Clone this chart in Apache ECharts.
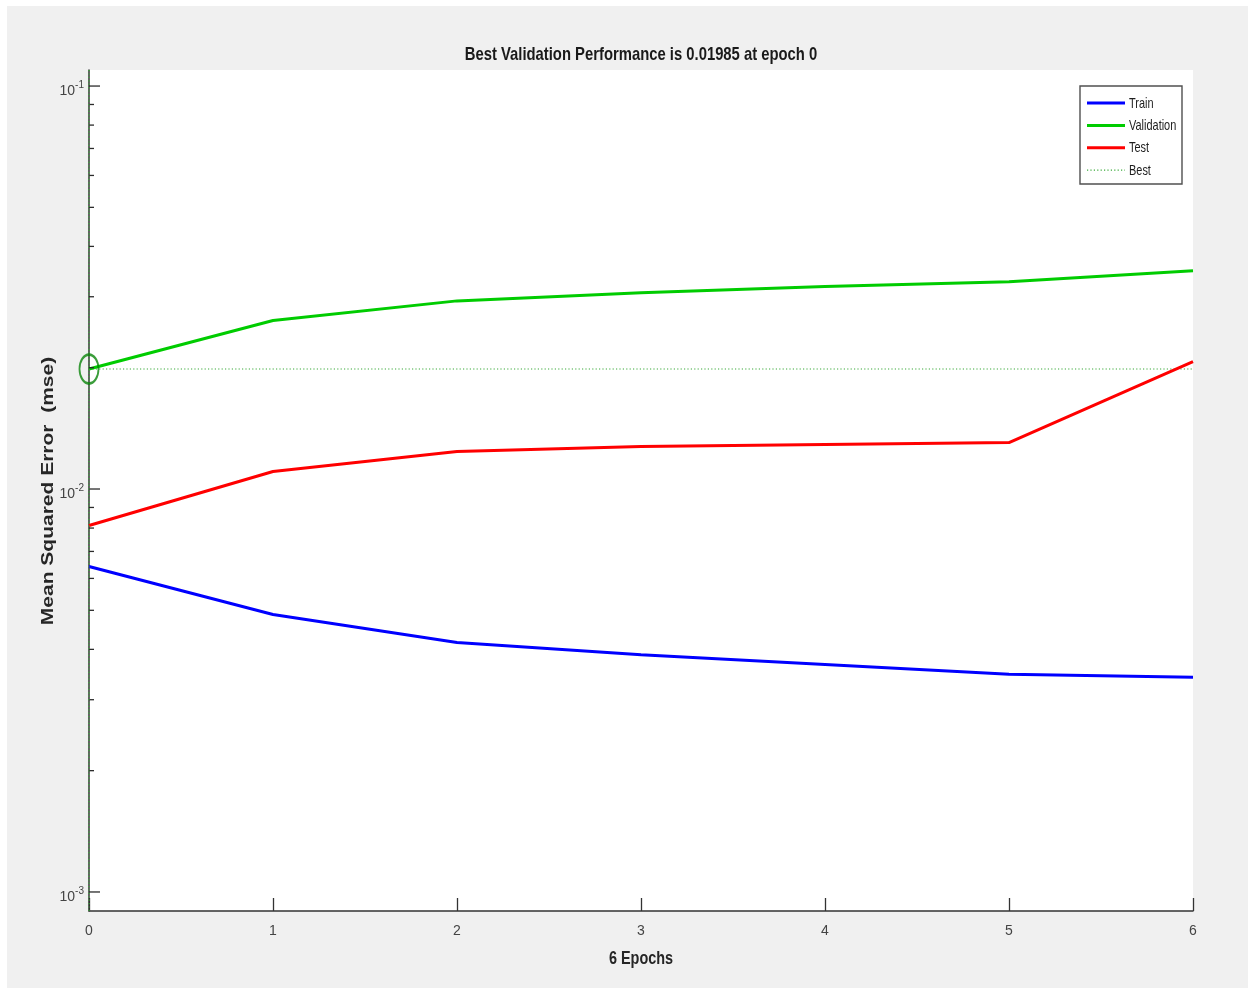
<!DOCTYPE html>
<html>
<head>
<meta charset="utf-8">
<title>Best Validation Performance</title>
<script src="https://cdn.jsdelivr.net/npm/echarts@6/dist/echarts.min.js"></script>
<style>
  html, body { margin: 0; padding: 0; background: #ffffff; }
  #frame { position: absolute; left: 7px; top: 6px; width: 1241px; height: 982px; background: #f0f0f0; }
  #chart { position: absolute; left: 0; top: 0; width: 1250px; height: 989px; }
</style>
</head>
<body>
<div id="frame"></div>
<div id="chart"></div>
<script>
// Training record: mean squared error per epoch
const epochs = [0, 1, 2, 3, 4, 5, 6];
const trainPerf = [0.00642, 0.00488, 0.00416, 0.00388, 0.00367, 0.00347, 0.00341];
const valPerf   = [0.01985, 0.0262, 0.0293, 0.0307, 0.0318, 0.0327, 0.0348];
const testPerf  = [0.00812, 0.01105, 0.01239, 0.01275, 0.0129, 0.01304, 0.0207];

const bestEpoch = 0;
const bestPerf = 0.01985;

// y-axis (log) limits and tick positions
const Y_MIN = 0.000897;
const Y_MAX = 0.1096;
const X_MIN = 0;
const X_MAX = 6;
const majorTicks = [0.001, 0.01, 0.1];
const minorTicks = [0.002, 0.003, 0.004, 0.005, 0.006, 0.007, 0.008, 0.009,
                    0.02, 0.03, 0.04, 0.05, 0.06, 0.07, 0.08, 0.09];

const legendNames = ['Train', 'Validation', 'Test', 'Best'];

const titleText = 'Best Validation Performance is ' + bestPerf + ' at epoch ' + bestEpoch;
const xName = (epochs.length - 1) + ' Epochs';
const yName = 'Mean Squared Error  (mse)';

const SANS = "'Liberation Sans', Arial, Helvetica, sans-serif";

const STYLES = {
  Train:      { color: '#0000ff', width: 3, dash: null },
  Validation: { color: '#00cc00', width: 3, dash: null },
  Test:       { color: '#ff0000', width: 3, dash: null },
  Best:       { color: '#3aaa3a', width: 1.2, dash: [1.2, 2.2] }
};

const chart = echarts.init(document.getElementById('chart'), null, { renderer: 'canvas' });

function pairs(xs, ys) { return xs.map((x, i) => [x, ys[i]]); }

function lineSeries(name, data, z) {
  const s = STYLES[name];
  return {
    name: name, type: 'line', showSymbol: false, symbol: 'none', z: z,
    data: data,
    lineStyle: { color: s.color, width: s.width, type: s.dash || 'solid' },
    itemStyle: { color: s.color }
  };
}

function tickSeries(values, len) {
  return {
    type: 'custom',
    silent: true,
    clip: false,
    z: 5,
    data: values.map(v => [X_MIN, v]),
    renderItem: function (params, api) {
      const p = api.coord([api.value(0), api.value(1)]);
      return {
        type: 'line',
        shape: { x1: p[0], y1: p[1], x2: p[0] + len, y2: p[1] },
        style: { stroke: '#2b2b2b', lineWidth: 1.3 }
      };
    }
  };
}

// legend box drawn as a graphic group (line samples + condensed labels)
function legendGroup() {
  const children = [{
    type: 'rect',
    shape: { x: 0, y: 0, width: 102, height: 98 },
    style: { fill: '#ffffff', stroke: '#505050', lineWidth: 1.4 }
  }];
  legendNames.forEach((name, i) => {
    const s = STYLES[name];
    const cy = 17 + i * 22.4;
    children.push({
      type: 'line',
      shape: { x1: 7, y1: cy, x2: 45, y2: cy },
      style: { stroke: s.color, lineWidth: s.width, lineDash: s.dash }
    });
    children.push({
      type: 'text', x: 49, y: cy + 0.5, scaleX: 0.73,
      style: { text: name, fill: '#1e1e1e', font: '15px ' + SANS, textAlign: 'left', textVerticalAlign: 'middle' }
    });
  });
  return { type: 'group', x: 1080, y: 86, z: 100, children: children };
}

const option = {
  animation: false,
  backgroundColor: 'transparent',
  grid: {
    left: 89, right: 57, top: 70, bottom: 78,
    show: true, backgroundColor: '#ffffff', borderWidth: 0
  },
  xAxis: {
    type: 'value',
    min: X_MIN, max: X_MAX, interval: 1,
    axisLine: { show: true, onZero: false, lineStyle: { color: '#333333', width: 1.5 } },
    axisTick: { show: true, inside: true, length: 13, lineStyle: { color: '#333333', width: 1.3 } },
    axisLabel: { margin: 13, fontFamily: SANS, fontSize: 14, color: '#444444' },
    splitLine: { show: false }
  },
  yAxis: {
    type: 'log',
    logBase: 10,
    min: Y_MIN, max: Y_MAX,
    axisLine: { show: true, lineStyle: { color: '#333333', width: 1.5 } },
    axisTick: { show: false },
    minorTick: { show: false },
    splitLine: { show: false },
    axisLabel: {
      margin: 5,
      color: '#444444',
      fontFamily: SANS,
      fontSize: 14,
      formatter: function (v) {
        const e = Math.log10(v);
        const r = Math.round(e);
        if (Math.abs(e - r) > 1e-6) return '';
        return '{b|10}{s|' + r + '}';
      },
      rich: {
        b: { fontFamily: SANS, fontSize: 14, color: '#444444', padding: [11, 0, 0, 0] },
        s: { fontFamily: SANS, fontSize: 10, color: '#444444', padding: [0, 0, 2, 0] }
      }
    }
  },
  graphic: [
    {
      type: 'text', x: 641, y: 55, scaleX: 0.78,
      style: { text: titleText, fill: '#1a1a1a', font: 'bold 19px ' + SANS, textAlign: 'center', textVerticalAlign: 'middle' }
    },
    {
      type: 'text', x: 641, y: 959, scaleX: 0.76,
      style: { text: xName, fill: '#262626', font: 'bold 19px ' + SANS, textAlign: 'center', textVerticalAlign: 'middle' }
    },
    {
      type: 'text', x: 49, y: 491, rotation: Math.PI / 2, scaleY: 0.77,
      style: { text: yName, fill: '#262626', font: 'bold 21px ' + SANS, textAlign: 'center', textVerticalAlign: 'middle' }
    },
    legendGroup()
  ],
  series: [
    lineSeries('Train', pairs(epochs, trainPerf), 3),
    lineSeries('Validation', pairs(epochs, valPerf), 3),
    lineSeries('Test', pairs(epochs, testPerf), 3),
    lineSeries('Best', [[X_MIN, bestPerf], [X_MAX, bestPerf]], 2),
    lineSeries('Best', [[bestEpoch, Y_MIN], [bestEpoch, Y_MAX]], 6),
    {
      name: 'bestMarker', type: 'scatter', z: 7, silent: true,
      symbol: 'circle', symbolSize: [19, 29],
      data: [[bestEpoch, bestPerf]],
      itemStyle: { color: 'rgba(0,0,0,0)', borderColor: '#0a850a', borderWidth: 2.2 }
    },
    tickSeries(majorTicks, 11),
    tickSeries(minorTicks, 5)
  ]
};

chart.setOption(option);
</script>
</body>
</html>
